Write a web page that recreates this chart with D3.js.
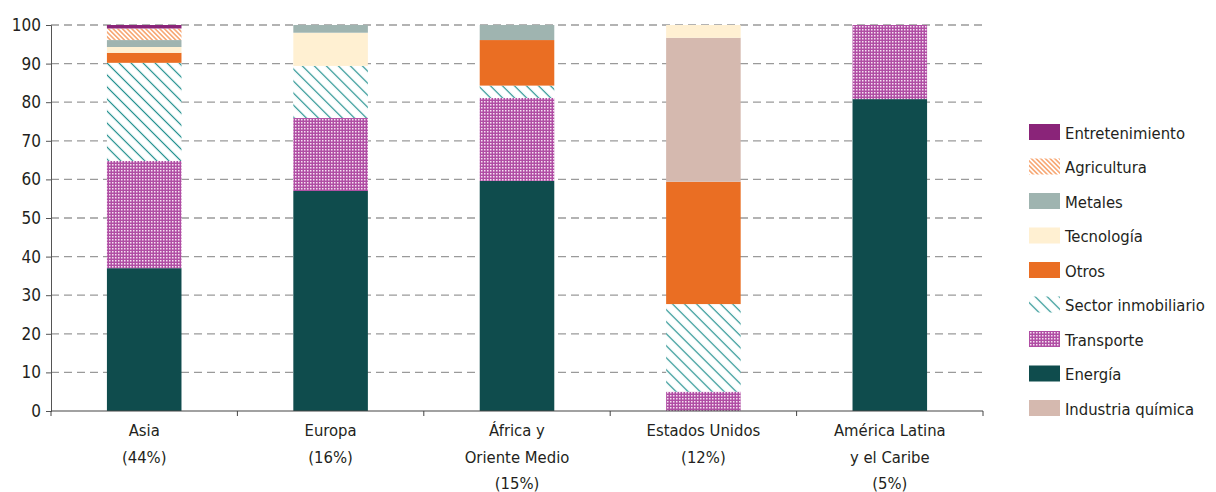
<!DOCTYPE html>
<html>
<head>
<meta charset="utf-8">
<script src="https://cdn.jsdelivr.net/npm/d3@7"></script>
<style>
  body { margin: 0; background: #fff; }
  text { font-family: "DejaVu Sans Condensed", "Liberation Sans Narrow", "Roboto", sans-serif; fill: #231f20; }
</style>
</head>
<body>
<svg id="canvas"></svg>
<script>
const regions = [["Asia", "(44%)"], ["Europa", "(16%)"], ["África y", "Oriente Medio", "(15%)"], ["Estados Unidos", "(12%)"], ["América Latina", "y el Caribe", "(5%)"]];
const regionKeys = ["asia", "europa", "africa", "eeuu", "latam"];

// stacked from the bottom up
const sectors = ["Energía", "Transporte", "Sector inmobiliario", "Otros", "Industria química", "Tecnología", "Metales", "Agricultura", "Entretenimiento"];
const legendOrder = ["Entretenimiento", "Agricultura", "Metales", "Tecnología", "Otros", "Sector inmobiliario", "Transporte", "Energía", "Industria química"];

const energia        = [37.0, 57.0, 59.6, 0.0, 80.8];
const transporte     = [27.8, 18.9, 21.5, 5.0, 19.2];
const inmobiliario   = [25.4, 13.5, 3.2, 22.7, 0.0];
const otros          = [2.6, 0.0, 11.8, 31.7, 0.0];
const quimica        = [0.0, 0.0, 0.0, 37.3, 0.0];
const tecnologia     = [1.5, 8.6, 0.0, 3.3, 0.0];
const metales        = [1.8, 2.0, 3.9, 0.0, 0.0];
const agricultura    = [3.0, 0.0, 0.0, 0.0, 0.0];
const entretenimiento = [0.9, 0.0, 0.0, 0.0, 0.0];

const yTicks = [0, 10, 20, 30, 40, 50, 60, 70, 80, 90, 100];

const seriesValues = [energia, transporte, inmobiliario, otros, quimica, tecnologia, metales, agricultura, entretenimiento];

const rows = regionKeys.map((key, i) => {
    const row = { key: key };
    sectors.forEach((s, j) => { row[s] = seriesValues[j][i]; });
    return row;
});

const W = 1216, H = 492;
const margins = { top: 25, left: 51, right: 233, bottom: 81 };
const innerW = W - margins.left - margins.right;
const innerH = H - margins.top - margins.bottom;

const svg = d3.select("#canvas").attr("width", W).attr("height", H);
const defs = svg.append("defs");

// patterns
const hatch = (id, color, size, width) => {
    const p = defs.append("pattern").attr("id", id)
        .attr("patternUnits", "userSpaceOnUse")
        .attr("width", size).attr("height", size)
        .attr("patternTransform", "rotate(45)");
    p.append("rect").attr("width", size).attr("height", size).attr("fill", "#fff");
    p.append("line").attr("x1", 0).attr("y1", size / 2).attr("x2", size).attr("y2", size / 2)
        .attr("stroke", color).attr("stroke-width", width);
};
hatch("hatchInmob", "#23918f", 8.5, 1.2);
hatch("hatchAgri", "#f58a45", 3.3, 1.2);

const grid = defs.append("pattern").attr("id", "gridTrans")
    .attr("patternUnits", "userSpaceOnUse").attr("width", 3).attr("height", 3);
grid.append("rect").attr("width", 3).attr("height", 3).attr("fill", "#b04ea4");
grid.append("rect").attr("x", 1).attr("y", 1).attr("width", 1.5).attr("height", 1.5).attr("fill", "#f6e2f2");

const colors = {
    "Energía": "#0f4c4d",
    "Transporte": "url(#gridTrans)",
    "Sector inmobiliario": "url(#hatchInmob)",
    "Otros": "#ea6e23",
    "Industria química": "#d5b9af",
    "Tecnología": "#fff0d2",
    "Metales": "#9fb4b0",
    "Agricultura": "url(#hatchAgri)",
    "Entretenimiento": "#8a2479"
};

const g = svg.append("g").attr("transform", "translate(" + margins.left + "," + margins.top + ")");

const x = d3.scaleBand().domain(regionKeys).range([0, innerW]).paddingInner(0.6).paddingOuter(0.3);
const xb = d3.scaleBand().domain(regionKeys).range([0, innerW]);
const y = d3.scaleLinear().domain([0, 100]).range([innerH, 0]);

// gridlines
g.append("g").selectAll("line").data(yTicks.filter(t => t > 0)).enter().append("line")
    .attr("x1", 0).attr("x2", innerW)
    .attr("y1", d => y(d)).attr("y2", d => y(d))
    .attr("stroke", "#9a9a9a").attr("stroke-width", 1.3)
    .attr("stroke-dasharray", "8,5");

// bars
const stacked = d3.stack().keys(sectors)(rows);
g.append("g").selectAll("g").data(stacked).enter().append("g")
    .attr("fill", d => colors[d.key])
    .selectAll("rect").data(d => d).enter().append("rect")
    .attr("x", d => x(d.data.key))
    .attr("width", x.bandwidth())
    .attr("y", d => y(d[1]))
    .attr("height", d => y(d[0]) - y(d[1]));

// y axis
const yAxis = g.append("g").call(d3.axisLeft(y).tickValues(yTicks).tickSize(5).tickPadding(5));
yAxis.select(".domain").attr("stroke", "#555");
yAxis.selectAll(".tick line").attr("stroke", "#555");
yAxis.selectAll("text").style("font-size", "17px").attr("fill", "#231f20");

// x axis
const xAxisG = g.append("g").attr("transform", "translate(0," + innerH + ")");
xAxisG.append("line").attr("x1", 0).attr("x2", innerW).attr("stroke", "#444").attr("stroke-width", 1.2);
xAxisG.selectAll(".sep").data(regionKeys).enter().append("line")
    .attr("x1", d => xb(d) + xb.bandwidth()).attr("x2", d => xb(d) + xb.bandwidth())
    .attr("y1", 0).attr("y2", 5).attr("stroke", "#444");
xAxisG.append("line").attr("x1", 0).attr("x2", 0).attr("y1", 0).attr("y2", 5).attr("stroke", "#444");

xAxisG.selectAll(".lab").data(regionKeys).enter().append("text")
    .attr("text-anchor", "middle")
    .attr("x", d => xb(d) + xb.bandwidth() / 2)
    .attr("y", 25)
    .style("font-size", "16.5px")
    .each(function (d, i) {
        d3.select(this).selectAll("tspan").data(regions[i]).enter().append("tspan")
            .attr("x", xb(d) + xb.bandwidth() / 2)
            .attr("dy", (t, k) => k === 0 ? 0 : 26.5)
            .text(t => t);
    });

// legend
const legend = svg.append("g").attr("transform", "translate(1029,124)");
const item = legend.selectAll("g").data(legendOrder).enter().append("g")
    .attr("transform", (d, i) => "translate(0," + (i * 34.5) + ")");
item.append("rect").attr("width", 31).attr("height", 16).attr("fill", d => colors[d]);
item.append("text").attr("x", 36).attr("y", 14.5).style("font-size", "16.5px").text(d => d);
</script>
</body>
</html>
